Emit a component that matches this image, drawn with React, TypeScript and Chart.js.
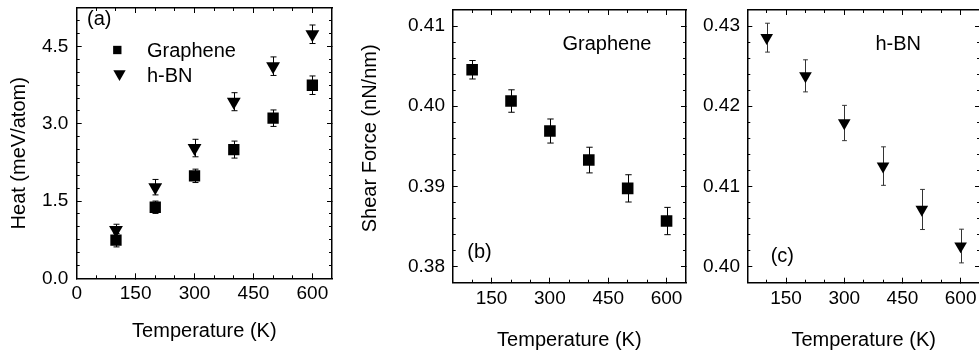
import React, { useEffect, useRef } from 'react';
import { Chart, registerables } from 'chart.js';
import { drawPoint } from 'chart.js/helpers';

Chart.register(...registerables);

const FONT = "'Liberation Sans', Arial, Helvetica, sans-serif";

// ---------- data ----------
const temperatures = [100, 200, 300, 400, 500, 600];

const heatGraphene = [0.74, 1.38, 1.99, 2.5, 3.11, 3.75];
const heatGrapheneErr = [0.13, 0.12, 0.13, 0.165, 0.16, 0.18];
const heatHBN = [0.94, 1.77, 2.53, 3.43, 4.12, 4.74];
const heatHBNErr = [0.11, 0.15, 0.17, 0.175, 0.18, 0.18];

const shearGraphene = [0.40455, 0.40065, 0.39691, 0.39329, 0.38976, 0.38569];
const shearGrapheneErr = [0.00115, 0.0014, 0.0015, 0.0016, 0.0017, 0.0017];
const shearHBN = [0.42855, 0.42379, 0.41791, 0.41254, 0.40713, 0.40257];
const shearHBNErr = [0.0018, 0.002, 0.0022, 0.0024, 0.0025, 0.0021];

// ---------- tick values ----------
const xMajorA = [0, 150, 300, 450, 600];
const xMinorA = [50, 100, 200, 250, 350, 400, 500, 550];
const xMajorBC = [150, 300, 450, 600];
const xMinorBC = [100, 200, 250, 350, 400, 500, 550];

const yMajorA = [0, 1.5, 3, 4.5];
const yMinorA = [0.25, 0.5, 0.75, 1, 1.25, 1.75, 2, 2.25, 2.5, 2.75, 3.25, 3.5, 3.75, 4, 4.25, 4.75, 5];
const yMajorB = [0.38, 0.39, 0.4, 0.41];
const yMinorB = [0.382, 0.384, 0.386, 0.388, 0.392, 0.394, 0.396, 0.398, 0.402, 0.404, 0.406, 0.408];
const yMajorC = [0.4, 0.41, 0.42, 0.43];
const yMinorC = [0.402, 0.404, 0.406, 0.408, 0.412, 0.414, 0.416, 0.418, 0.422, 0.424, 0.426, 0.428];

// ---------- plugins ----------
const errorBarsPlugin = {
  id: 'errorBars',
  beforeDatasetsDraw(chart: any) {
    const ctx = chart.ctx;
    chart.data.datasets.forEach((ds: any, i: number) => {
      const meta = chart.getDatasetMeta(i);
      const xs = chart.scales[meta.xAxisID];
      const ys = chart.scales[meta.yAxisID];
      ctx.save();
      ctx.strokeStyle = ds.errColor || '#000';
      ctx.lineWidth = ds.errWidth || 1;
      const cap = ds.capHalf || 3;
      ds.data.forEach((p: any, j: number) => {
        const e = ds.errors[j];
        const px = Math.round(xs.getPixelForValue(p.x)) + 0.5;
        const top = ys.getPixelForValue(p.y + e);
        const bot = ys.getPixelForValue(p.y - e);
        ctx.beginPath();
        ctx.moveTo(px, top);
        ctx.lineTo(px, bot);
        ctx.moveTo(px - cap, top);
        ctx.lineTo(px + cap, top);
        ctx.moveTo(px - cap, bot);
        ctx.lineTo(px + cap, bot);
        ctx.stroke();
      });
      ctx.restore();
    });
  },
};

type TextItem = { text: string; x: number; y: number; rot?: boolean };
type MarkerItem = { style: string; rotation: number; radius: number; x: number; y: number };

function makeTextPlugin(texts: TextItem[], markers: MarkerItem[]) {
  return {
    id: 'panelText',
    afterDraw(chart: any) {
      const ctx = chart.ctx;
      ctx.save();
      ctx.fillStyle = '#000';
      ctx.font = `20px ${FONT}`;
      ctx.textBaseline = 'alphabetic';
      texts.forEach((t) => {
        if (t.rot) {
          ctx.save();
          ctx.translate(t.x, t.y);
          ctx.rotate(-Math.PI / 2);
          ctx.textAlign = 'center';
          ctx.fillText(t.text, 0, 0);
          ctx.restore();
        } else {
          ctx.textAlign = 'left';
          ctx.fillText(t.text, t.x, t.y);
        }
      });
      markers.forEach((m) => {
        ctx.fillStyle = '#000';
        ctx.strokeStyle = '#000';
        drawPoint(ctx, { pointStyle: m.style as any, rotation: m.rotation, radius: m.radius, borderWidth: 0 }, m.x, m.y);
      });
      ctx.restore();
    },
  };
}

// ---------- scales ----------
type PanelCfg = {
  xMin: number; xMax: number; yMin: number; yMax: number;
  xMajor: number[]; xMinor: number[]; yMajor: number[]; yMinor: number[];
  yFmt: (v: number) => string;
  yWidth: number; xHeight: number; xPad: number; yPad: number; titlePadBottom: number;
};

function noPad(s: any) {
  s.paddingTop = 0;
  s.paddingBottom = 0;
  s.paddingLeft = 0;
  s.paddingRight = 0;
}

function buildScales(c: PanelCfg) {
  const tickFont = { family: FONT, size: 19 };
  const border = { display: true, color: '#000', width: 1.5 };
  const base = (axis: string, position: string, min: number, max: number, values: number[], len: number, weight: number, extra: any = {}) => ({
    type: 'linear',
    axis,
    position,
    min,
    max,
    weight,
    display: true,
    afterBuildTicks: (s: any) => {
      s.ticks = values.map((v) => ({ value: v }));
    },
    grid: { drawOnChartArea: false, drawTicks: true, tickLength: -len, tickColor: '#000', tickWidth: 1 },
    border: { display: false },
    ticks: { display: false },
    ...extra,
  });
  const zeroH = (s: any) => { s.height = 0; noPad(s); };
  const zeroW = (s: any) => { s.width = 0; noPad(s); };
  return {
    x: base('x', 'bottom', c.xMin, c.xMax, c.xMajor, 5, 1, {
      border,
      ticks: {
        display: true, autoSkip: false, maxRotation: 0, minRotation: 0, padding: c.xPad,
        color: '#000', font: tickFont, callback: (v: any) => String(v),
      },
      title: {
        display: true, text: 'Temperature (K)', color: '#000',
        font: { family: FONT, size: 20 }, padding: { top: 0, bottom: c.titlePadBottom },
      },
      afterFit: (s: any) => { s.height = c.xHeight; noPad(s); },
    }),
    xMinor: base('x', 'bottom', c.xMin, c.xMax, c.xMinor, 3, 0, { afterFit: zeroH }),
    xTop: base('x', 'top', c.xMin, c.xMax, c.xMajor, 5, 1, { border, afterFit: zeroH }),
    xTopMinor: base('x', 'top', c.xMin, c.xMax, c.xMinor, 3, 0, { afterFit: zeroH }),
    y: base('y', 'left', c.yMin, c.yMax, c.yMajor, 5, 1, {
      border,
      ticks: {
        display: true, autoSkip: false, padding: c.yPad, color: '#000', font: tickFont,
        callback: (v: any) => c.yFmt(Number(v)),
      },
      afterFit: (s: any) => { s.width = c.yWidth; noPad(s); },
    }),
    yMinor: base('y', 'left', c.yMin, c.yMax, c.yMinor, 3, 0, { afterFit: zeroW }),
    yRight: base('y', 'right', c.yMin, c.yMax, c.yMajor, 5, 1, { border, afterFit: zeroW }),
    yRightMinor: base('y', 'right', c.yMin, c.yMax, c.yMinor, 3, 0, { afterFit: zeroW }),
  };
}

function pts(ys: number[]) {
  return temperatures.map((t, i) => ({ x: t, y: ys[i] }));
}

function squareSet(label: string, ys: number[], errs: number[], radius: number, extra: any = {}) {
  return {
    label, data: pts(ys), errors: errs, pointStyle: 'rect', pointRotation: 0, pointRadius: radius,
    pointHoverRadius: radius, backgroundColor: '#000', borderColor: '#000', pointBorderWidth: 0,
    borderWidth: 0, showLine: false, xAxisID: 'x', yAxisID: 'y', ...extra,
  };
}
function triangleSet(label: string, ys: number[], errs: number[], radius: number, extra: any = {}) {
  return {
    label, data: pts(ys), errors: errs, pointStyle: 'triangle', pointRotation: 180, pointRadius: radius,
    pointHoverRadius: radius, backgroundColor: '#000', borderColor: '#000', pointBorderWidth: 0,
    borderWidth: 0, showLine: false, xAxisID: 'x', yAxisID: 'y', ...extra,
  };
}

function makeConfig(datasets: any[], cfg: PanelCfg, padding: any, texts: TextItem[], markers: MarkerItem[]): any {
  return {
    type: 'scatter',
    data: { datasets },
    options: {
      animation: false,
      responsive: false,
      maintainAspectRatio: false,
      devicePixelRatio: 1,
      events: [],
      layout: { padding },
      plugins: { legend: { display: false }, tooltip: { enabled: false }, title: { display: false } },
      scales: buildScales(cfg),
    },
    plugins: [errorBarsPlugin, makeTextPlugin(texts, markers)],
  };
}

const configA = () =>
  makeConfig(
    [
      squareSet('Graphene', heatGraphene, heatGrapheneErr, 8, { capHalf: 3 }),
      triangleSet('h-BN', heatHBN, heatHBNErr, 8, { capHalf: 3 }),
    ],
    {
      xMin: 0, xMax: 650, yMin: 0, yMax: 5.25,
      xMajor: xMajorA, xMinor: xMinorA, yMajor: yMajorA, yMinor: yMinorA,
      yFmt: (v) => v.toFixed(1),
      yWidth: 76.7, xHeight: 74.7, xPad: 9.4, yPad: 13.4, titlePadBottom: 10,
    },
    { left: 0, right: 5, top: 3, bottom: 0 },
    [
      { text: '(a)', x: 87, y: 24.7 },
      { text: 'Graphene', x: 147, y: 56.5 },
      { text: 'h-BN', x: 147, y: 82 },
      { text: 'Heat (meV/atom)', x: 25.2, y: 153.3, rot: true },
    ],
    [
      { style: 'rect', rotation: 0, radius: 5.9, x: 117.3, y: 50 },
      { style: 'triangle', rotation: 180, radius: 7.1, x: 119.5, y: 73.9 },
    ]
  );

const configB = () =>
  makeConfig(
    [squareSet('Graphene', shearGraphene, shearGrapheneErr, 8.2, { capHalf: 3.2 })],
    {
      xMin: 50, xMax: 650, yMin: 0.378, yMax: 0.412,
      xMajor: xMajorBC, xMinor: xMinorBC, yMajor: yMajorB, yMinor: yMinorB,
      yFmt: (v) => v.toFixed(2),
      yWidth: 112.7, xHeight: 70.3, xPad: 9.4, yPad: 12.7, titlePadBottom: 1,
    },
    { left: 0, right: 9, top: 10, bottom: 0 },
    [
      { text: '(b)', x: 127.3, y: 258.2 },
      { text: 'Graphene', x: 222.5, y: 50 },
      { text: 'Shear Force (nN/nm)', x: 36, y: 138.3, rot: true },
    ],
    []
  );

const configC = () =>
  makeConfig(
    [triangleSet('h-BN', shearHBN, shearHBNErr, 7.3, { capHalf: 2.4, errColor: '#333' })],
    {
      xMin: 50, xMax: 650, yMin: 0.398, yMax: 0.432,
      xMajor: xMajorBC, xMinor: xMinorBC, yMajor: yMajorC, yMinor: yMinorC,
      yFmt: (v) => v.toFixed(2),
      yWidth: 52.3, xHeight: 70.3, xPad: 9.4, yPad: 12.3, titlePadBottom: 1,
    },
    { left: 0, right: 15, top: 10, bottom: 0 },
    [
      { text: '(c)', x: 75.7, y: 261.9 },
      { text: 'h-BN', x: 180.5, y: 50 },
    ],
    []
  );

function Panel({ left, width, config }: { left: number; width: number; config: () => any }) {
  const ref = useRef<HTMLCanvasElement>(null);
  useEffect(() => {
    if (!ref.current) return;
    const chart = new Chart(ref.current, config());
    return () => chart.destroy();
  }, [config]);
  return (
    <canvas
      ref={ref}
      width={width}
      height={353}
      style={{ position: 'absolute', left, top: 0, width, height: 353, display: 'block' }}
    />
  );
}

export default function App() {
  return (
    <div
      style={{
        position: 'fixed', left: 0, top: 0, width: 979, height: 353,
        overflow: 'hidden', background: '#fff',
      }}
    >
      <Panel left={0} width={340} config={configA} />
      <Panel left={340} width={355} config={configB} />
      <Panel left={695} width={300} config={configC} />
    </div>
  );
}
